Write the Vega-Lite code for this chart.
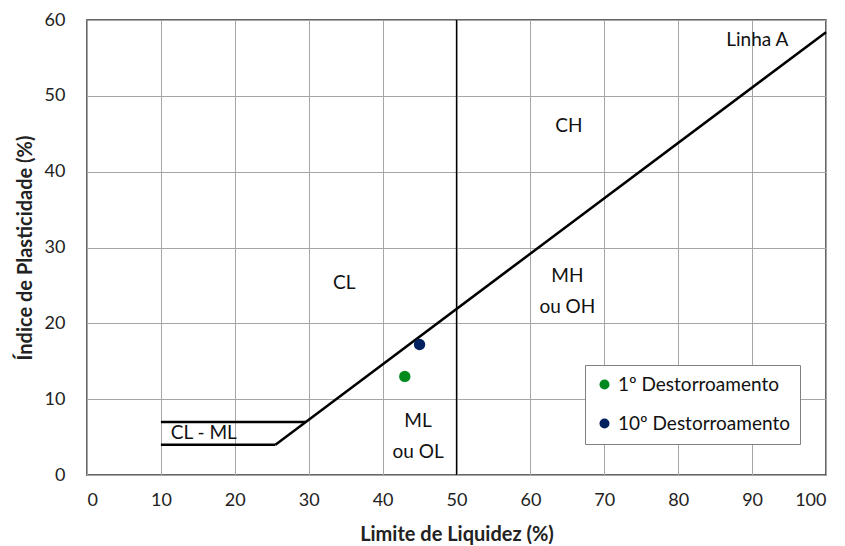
{
  "$schema": "https://vega.github.io/schema/vega-lite/v6.json",
  "autosize": "none",
  "width": 739,
  "height": 455,
  "padding": {"left": 87, "top": 20, "right": 19, "bottom": 71},
  "background": "white",
  "config": {
    "view": {"stroke": "#333333", "strokeWidth": 1.5},
    "font": "Lato",
    "axis": {
      "grid": true, "gridColor": "#a6a6a6", "gridWidth": 1, "ticks": false, "domain": false,
      "labelFont": "Lato", "labelFontSize": 18, "labelColor": "#222222",
      "titleFont": "Lato", "titleFontSize": 20, "titleFontWeight": "bold", "titleColor": "#222222"
    }
  },
  "datasets": {
    "lines": [
      {"seg": "A", "LL": 25.5, "PI": 4},
      {"seg": "A", "LL": 100, "PI": 58.4},
      {"seg": "B", "LL": 10, "PI": 4},
      {"seg": "B", "LL": 25.5, "PI": 4},
      {"seg": "C", "LL": 10, "PI": 7},
      {"seg": "C", "LL": 29.6, "PI": 7}
    ],
    "vline": [
      {"LL": 50, "PI": 0},
      {"LL": 50, "PI": 60}
    ],
    "points": [
      {"serie": "1º Destorroamento", "LL": 43, "PI": 13},
      {"serie": "10º Destorroamento", "LL": 45, "PI": 17.2}
    ],
    "labels": [
      {"label": "Linha A", "LL": 90.7, "PI": 57.3},
      {"label": "CH", "LL": 65.2, "PI": 46},
      {"label": "CL", "LL": 34.8, "PI": 25.3},
      {"label": "MH\nou OH", "LL": 65, "PI": 26.2},
      {"label": "ML\nou OL", "LL": 44.8, "PI": 7.1},
      {"label": "CL - ML", "LL": 15.8, "PI": 5.6}
    ]
  },
  "layer": [
    {
      "data": {"name": "vline"},
      "mark": {"type": "line", "color": "black", "strokeWidth": 1.3},
      "encoding": {
        "x": {"field": "LL", "type": "quantitative", "scale": {"domain": [0, 100], "nice": false},
              "axis": {"values": [0,10,20,30,40,50,60,70,80,90,100], "labelPadding": 16, "titlePadding": 15}, "title": "Limite de Liquidez (%)"},
        "y": {"field": "PI", "type": "quantitative", "scale": {"domain": [0, 60], "nice": false},
              "axis": {"values": [0,10,20,30,40,50,60], "labelPadding": 22, "titlePadding": 9}, "title": "Índice de Plasticidade (%)"}
      }
    },
    {
      "data": {"name": "lines"},
      "mark": {"type": "line", "color": "black", "strokeWidth": 2.5},
      "encoding": {
        "x": {"field": "LL", "type": "quantitative"},
        "y": {"field": "PI", "type": "quantitative"},
        "detail": {"field": "seg"}
      }
    },
    {
      "data": {"name": "labels"},
      "mark": {"type": "text", "fontSize": 19, "color": "#111111", "lineBreak": "\n", "lineHeight": 31, "baseline": "middle", "font": "Lato"},
      "encoding": {
        "x": {"field": "LL", "type": "quantitative"},
        "y": {"field": "PI", "type": "quantitative"},
        "text": {"field": "label"}
      }
    },
    {
      "data": {"name": "points"},
      "mark": {"type": "circle", "size": 130, "opacity": 1},
      "encoding": {
        "x": {"field": "LL", "type": "quantitative"},
        "y": {"field": "PI", "type": "quantitative"},
        "color": {
          "field": "serie", "type": "nominal",
          "scale": {"domain": ["1º Destorroamento", "10º Destorroamento"], "range": ["#008a1e", "#002060"]},
          "legend": {
            "title": null, "orient": "none", "legendX": 498, "legendY": 345,
            "fillColor": "white", "strokeColor": "#808080", "padding": 10,
            "labelFontSize": 19, "labelFont": "Lato", "labelColor": "#111111",
            "symbolSize": 100, "symbolType": "circle", "rowPadding": 19, "labelLimit": 300
          }
        }
      }
    }
  ]
}
